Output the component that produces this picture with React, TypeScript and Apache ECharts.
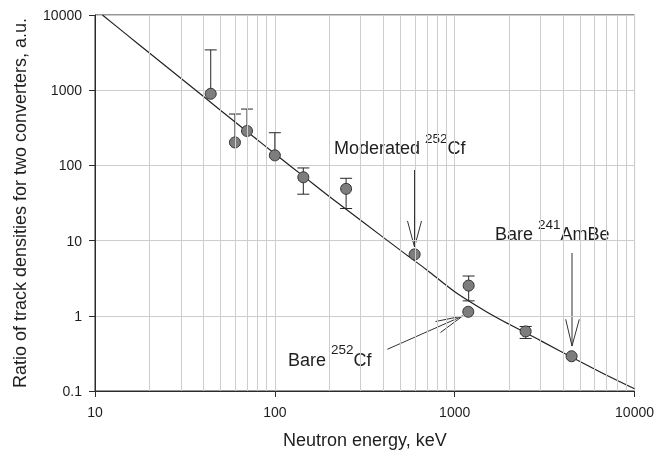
import React, { useEffect, useRef } from "react";
import * as echarts from "echarts";

// Measured data points (neutron energy keV, ratio a.u.)
const pointX = [44, 60, 70, 100, 144, 249, 599, 1196, 1190, 2480, 4467];
const pointY = [896, 202, 287, 136, 69.5, 48.8, 6.56, 2.52, 1.13, 0.62, 0.29];
const errUpper: (number | null)[] = [3435, 482, 561, 272, 92.5, 67.4, null, 3.38, null, 0.72, null];
const errLower: (number | null)[] = [null, null, null, null, 41.4, 26.7, null, 1.58, null, 0.5, null];

// Calculated curve
const curveX = [11, 15, 20, 30, 50, 70, 100, 150, 200, 300, 500, 700, 1000, 1500, 2000, 3000, 5000, 7000, 10000];
const curveY = [10000, 5480, 3150, 1445, 538, 282, 143, 66.7, 38.9, 18.6, 7.41, 4.07, 2.09, 1.135, 0.776, 0.468, 0.245, 0.162, 0.107];

// Minor vertical grid lines on the log x axis
const minorGridX = [20, 30, 40, 50, 60, 70, 80, 90, 200, 300, 400, 500, 600, 700, 800, 900, 2000, 3000, 4000, 5000, 6000, 7000, 8000, 9000];

const xTitle = "Neutron energy, keV";
const yTitle = "Ratio of track densities for two converters, a.u.";

export default function App() {
  const ref = useRef<HTMLDivElement>(null);
  useEffect(() => {
    const chart = echarts.init(ref.current!, null, { renderer: "svg" });
    const font = "'Liberation Sans', Arial, Helvetica, sans-serif";
    const axisColor = "#2b2b2b";
    const textColor = "#1e1e1e";
    const gridColor = "#cdcdcd";
    const fmt = (v: number) => String(Number(v.toPrecision(6)));

    const errData = pointX
      .map((x, i) => [
        x,
        errLower[i] ?? pointY[i],
        errUpper[i] ?? pointY[i],
        errLower[i] != null ? 1 : 0,
        errUpper[i] != null ? 1 : 0,
      ])
      .filter((d) => d[3] === 1 || d[4] === 1);

    const arrowStyle = { stroke: "#333", lineWidth: 1 };
    const rich = {
      b: { fontSize: 18, fontFamily: font, color: textColor, verticalAlign: "bottom", lineHeight: 26 },
      s: { fontSize: 13.5, fontFamily: font, color: textColor, verticalAlign: "top", lineHeight: 14 },
    };
    const mkText = (x: number, y: number, text: string) => ({
      type: "text",
      x,
      y,
      silent: true,
      style: { text, rich, fill: textColor, align: "left", verticalAlign: "top", fontFamily: font },
    });
    const mkLine = (x1: number, y1: number, x2: number, y2: number) => ({
      type: "line",
      silent: true,
      shape: { x1, y1, x2, y2 },
      style: arrowStyle,
    });

    const option: any = {
      animation: false,
      grid: { left: 95, right: 22, top: 15, bottom: 62, show: true, borderColor: axisColor, borderWidth: 1 },
      xAxis: {
        type: "log",
        logBase: 10,
        min: 10,
        max: 10000,
        name: xTitle,
        nameLocation: "middle",
        nameGap: 40,
        nameTextStyle: { fontSize: 18, color: textColor, fontFamily: font },
        axisLine: { show: true, lineStyle: { color: axisColor, width: 1 } },
        axisTick: { show: true, length: 6, lineStyle: { color: axisColor } },
        axisLabel: { fontSize: 14, margin: 14, color: textColor, fontFamily: font, formatter: fmt, showMinLabel: true, showMaxLabel: true },
        splitLine: { show: true, lineStyle: { color: gridColor, width: 1 } },
      },
      yAxis: {
        type: "log",
        logBase: 10,
        min: 0.1,
        max: 10000,
        name: yTitle,
        nameLocation: "middle",
        nameGap: 66,
        nameTextStyle: { fontSize: 18, color: textColor, fontFamily: font },
        axisLine: { show: true, lineStyle: { color: axisColor, width: 1 } },
        axisTick: { show: true, length: 6, lineStyle: { color: axisColor } },
        axisLabel: { fontSize: 14, margin: 13, color: textColor, fontFamily: font, formatter: fmt, showMinLabel: true, showMaxLabel: true },
        splitLine: { show: true, lineStyle: { color: gridColor, width: 1 } },
      },
      series: [
        {
          type: "line",
          data: [],
          silent: true,
          z: 1,
          markLine: {
            silent: true,
            symbol: ["none", "none"],
            label: { show: false },
            lineStyle: { color: gridColor, width: 1, type: "solid" },
            data: minorGridX.map((v) => ({ xAxis: v })),
          },
        },
        {
          type: "line",
          data: curveX.map((x, i) => [x, curveY[i]]),
          symbol: "none",
          smooth: 0.3,
          silent: true,
          z: 2,
          lineStyle: { color: "#222", width: 1.2 },
        },
        {
          type: "custom",
          z: 3,
          silent: true,
          encode: { x: 0, y: [1, 2] },
          data: errData,
          renderItem: (_p: any, api: any) => {
            const x = api.value(0);
            const lo = api.coord([x, api.value(1)]);
            const hi = api.coord([x, api.value(2)]);
            const w = 6;
            const st = { stroke: "#262626", lineWidth: 1 };
            const children: any[] = [
              { type: "line", shape: { x1: lo[0], y1: lo[1], x2: hi[0], y2: hi[1] }, style: st },
            ];
            if (api.value(4)) children.push({ type: "line", shape: { x1: hi[0] - w, y1: hi[1], x2: hi[0] + w, y2: hi[1] }, style: st });
            if (api.value(3)) children.push({ type: "line", shape: { x1: lo[0] - w, y1: lo[1], x2: lo[0] + w, y2: lo[1] }, style: st });
            return { type: "group", children };
          },
        },
        {
          type: "scatter",
          z: 4,
          silent: true,
          data: pointX.map((x, i) => [x, pointY[i]]),
          symbol: "circle",
          symbolSize: 11,
          itemStyle: { color: "#7d7d7d", borderColor: "#333", borderWidth: 1, opacity: 1 },
        },
      ],
      graphic: [
        mkText(334, 131, "{b|Moderated }{s|252}{b|Cf}"),
        mkText(495, 217, "{b|Bare }{s|241}{b|AmBe}"),
        mkText(288, 342.5, "{b|Bare }{s|252}{b|Cf}"),
        // Moderated arrow
        mkLine(414.5, 170, 414.5, 247),
        mkLine(407.5, 221, 414.5, 247),
        mkLine(421.5, 221, 414.5, 247),
        // AmBe arrow
        mkLine(572, 253, 572, 346),
        mkLine(565.7, 319.3, 572, 346),
        mkLine(579.3, 319.3, 572, 346),
        // Bare Cf arrow
        mkLine(387.3, 349.3, 462.7, 316),
        mkLine(435.5, 321.5, 462.7, 316),
        mkLine(440.5, 332.5, 462.7, 316),
      ],
    };
    chart.setOption(option);
    return () => chart.dispose();
  }, []);
  return <div ref={ref} style={{ position: "fixed", left: 0, top: 0, width: 657, height: 454 }} />;
}
